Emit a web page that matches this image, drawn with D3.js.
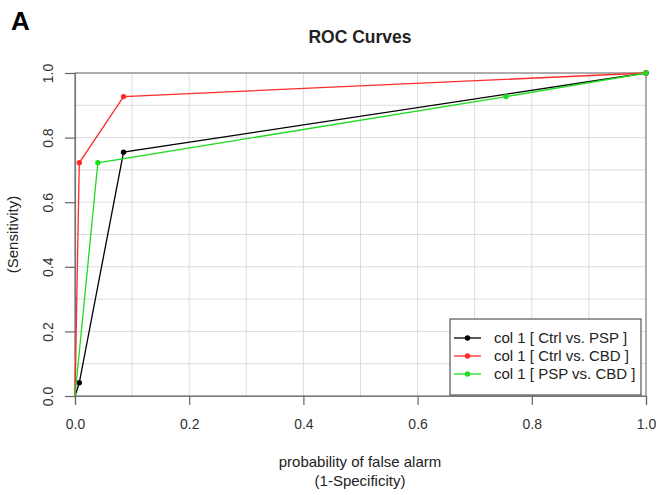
<!DOCTYPE html>
<html>
<head>
<meta charset="utf-8">
<script src="https://cdn.jsdelivr.net/npm/d3@7"></script>
<style>
body{margin:0;background:#fff;}
svg text{font-family:"Liberation Sans",Arial,sans-serif;fill:#222;}
</style>
</head>
<body>
<svg id="chart" width="660" height="495"></svg>
<script>
// ROC points: [1-specificity, sensitivity]
var ctrlPsp = [[0,0],[0.0075,0.041],[0.085,0.755],[1,1]];
var ctrlCbd = [[0,0],[0.0075,0.722],[0.085,0.927],[1,1]];
var pspCbd = [[0,0],[0.04,0.722],[0.755,0.927],[1,1]];
var seriesNames = ["col 1 [ Ctrl vs. PSP ]","col 1 [ Ctrl vs. CBD ]","col 1 [ PSP vs. CBD ]"];
var seriesColors = ["#000000","#ff2a2a","#1fdc1f"];
var tickValues = [0,0.2,0.4,0.6,0.8,1.0];
var gridValues = [0.1,0.2,0.3,0.4,0.5,0.6,0.7,0.8,0.9];

var svg = d3.select("#chart");

var scaleX = d3.scaleLinear().domain([0,1]).range([75,646]);
var scaleY = d3.scaleLinear().domain([0,1]).range([396,73]);

// grid
svg.append("g").selectAll("line")
	.data(gridValues)
	.enter()
	.append("line")
		.attr("x1",d => scaleX(d)).attr("x2",d => scaleX(d))
		.attr("y1",scaleY(0)).attr("y2",scaleY(1))
		.style("stroke","#dcdcdc").style("stroke-width",1);
svg.append("g").selectAll("line")
	.data(gridValues)
	.enter()
	.append("line")
		.attr("x1",scaleX(0)).attr("x2",scaleX(1))
		.attr("y1",d => scaleY(d)).attr("y2",d => scaleY(d))
		.style("stroke","#dcdcdc").style("stroke-width",1);

// box
svg.append("rect")
	.attr("x",scaleX(0)).attr("y",scaleY(1))
	.attr("width",scaleX(1)-scaleX(0)).attr("height",scaleY(0)-scaleY(1))
	.style("fill","none").style("stroke","#777").style("stroke-width",1.2);

// axes
var xAxis = svg.append("g")
	.attr("transform","translate(0,"+scaleY(0)+")")
	.call(d3.axisBottom(scaleX).tickValues(tickValues).tickFormat(d3.format(".1f")).tickSize(9).tickPadding(14));
var yAxis = svg.append("g")
	.attr("transform","translate("+scaleX(0)+",0)")
	.call(d3.axisLeft(scaleY).tickValues(tickValues).tickFormat(d3.format(".1f")).tickSize(10));
[xAxis,yAxis].forEach(function(a){
	a.select(".domain").style("stroke","#777").style("stroke-width",1.2);
	a.selectAll(".tick line").style("stroke","#666").style("stroke-width",1.2);
	a.selectAll("text").attr("font-size","14px").style("fill","#333")
		.attr("font-family","Liberation Sans, Arial, sans-serif");
});
yAxis.selectAll(".tick text")
	.attr("x",null).attr("dy",null)
	.attr("text-anchor","middle")
	.attr("transform","translate(-27,0)rotate(-90)")
	.attr("dy","0.35em");

// curves (points only where the curve bends, not at the origin)
var lineGenerator = d3.line()
	.x(function(d){ return scaleX(d[0]); })
	.y(function(d){ return scaleY(d[1]); });
var allSeries = [ctrlPsp,ctrlCbd,pspCbd];
allSeries.forEach(function(s,i){
	svg.append("path")
		.attr("d",lineGenerator(s))
		.style("fill","none")
		.style("stroke",seriesColors[i])
		.style("stroke-width",1.3);
	svg.append("g").selectAll("circle")
		.data(s.filter(d => d[0] > 0))
		.enter()
		.append("circle")
			.attr("cx",d => scaleX(d[0]))
			.attr("cy",d => scaleY(d[1]))
			.attr("r",2.7)
			.style("fill",seriesColors[i]);
});

// legend
var legend = svg.append("g");
legend.append("rect")
	.attr("x",450).attr("y",319).attr("width",191).attr("height",76)
	.style("fill","#fff").style("stroke","#555").style("stroke-width",1.2);
seriesNames.forEach(function(name,i){
	var y = 338 + i*18;
	legend.append("line")
		.attr("x1",454).attr("x2",481).attr("y1",y).attr("y2",y)
		.style("stroke",seriesColors[i]).style("stroke-width",1.3);
	legend.append("circle")
		.attr("cx",467.5).attr("cy",y).attr("r",2.7)
		.style("fill",seriesColors[i]);
	legend.append("text")
		.attr("x",494).attr("y",y).attr("dy","0.35em")
		.attr("font-size","15px")
		.text(name);
});

// titles
svg.append("text")
	.attr("x",360).attr("y",43)
	.attr("text-anchor","middle")
	.attr("font-size","17.5px").attr("font-weight","bold")
	.text("ROC Curves");
svg.append("text")
	.attr("x",11).attr("y",30)
	.attr("font-size","26px").attr("font-weight","bold")
	.style("fill","#000")
	.text("A");
svg.append("text")
	.attr("x",360).attr("y",467)
	.attr("text-anchor","middle")
	.attr("font-size","15px")
	.text("probability of false alarm");
svg.append("text")
	.attr("x",360).attr("y",486)
	.attr("text-anchor","middle")
	.attr("font-size","15px")
	.text("(1-Specificity)");
svg.append("text")
	.attr("transform","translate(18,"+((scaleY(0)+scaleY(1))/2)+")rotate(-90)")
	.attr("text-anchor","middle")
	.attr("font-size","15px")
	.text("(Sensitivity)");
</script>
</body>
</html>
